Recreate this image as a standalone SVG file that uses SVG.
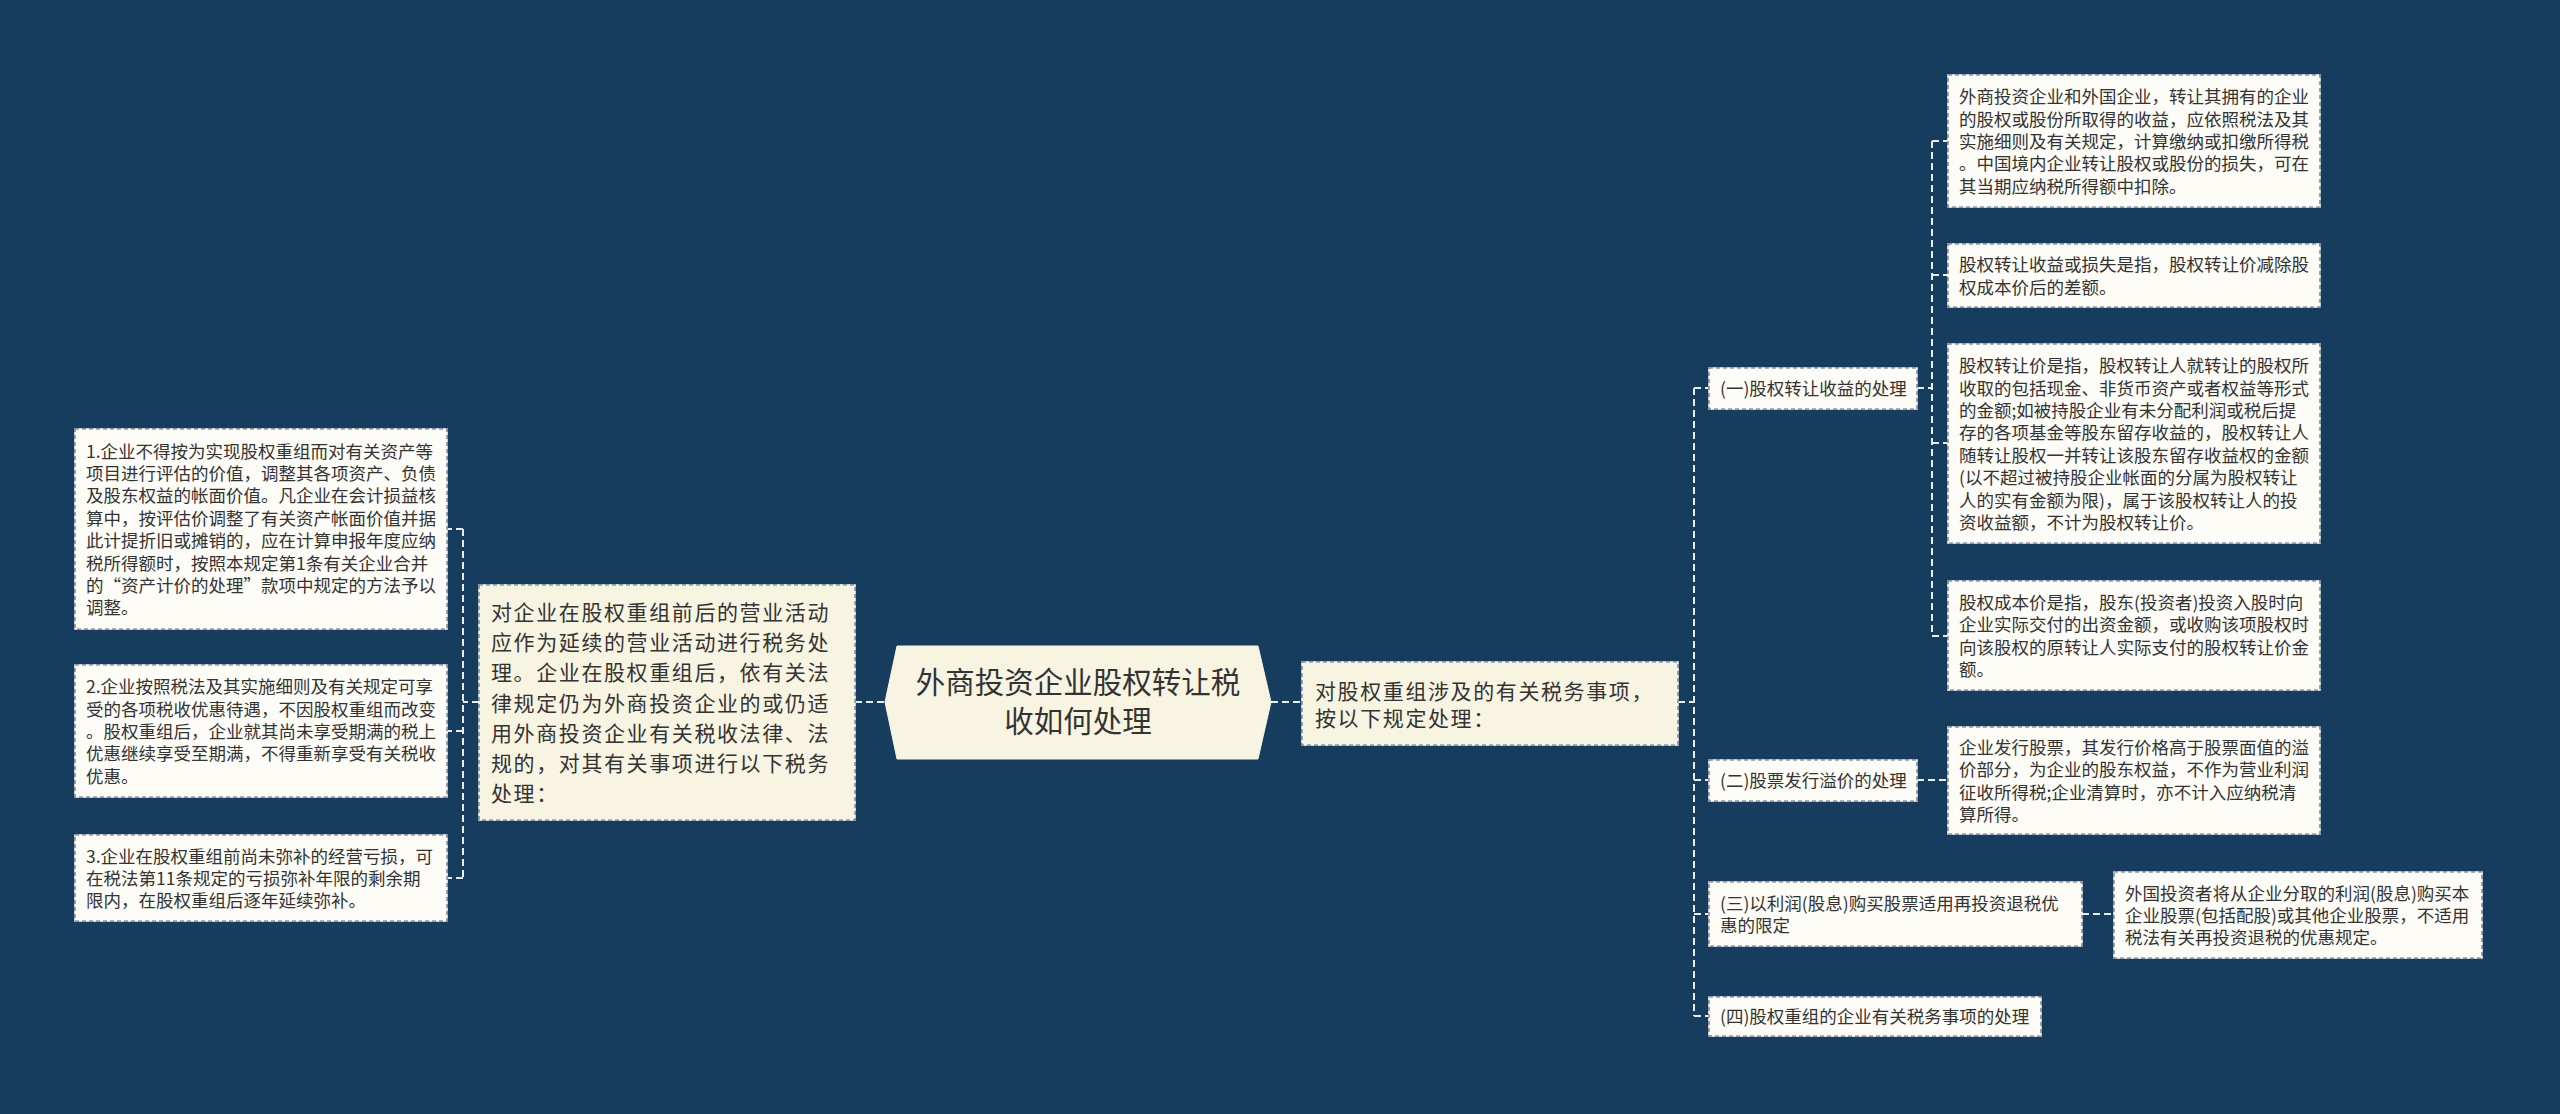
<svg xmlns="http://www.w3.org/2000/svg" width="2560" height="1114" viewBox="0 0 2560 1114">
<style>
.bg{fill:#173d5e}
.bx{fill:#fdfcf6;stroke:#ffffff;stroke-width:1.5}
.bm{fill:#f8f4e2;stroke:#ffffff;stroke-width:1.5}
.bd{fill:none;stroke:#5c6670;stroke-width:1.2;stroke-dasharray:4 3}
.hx{fill:#f8f4e2;stroke:#f8f4e2;stroke-width:1}
.t{font-family:"Noto Sans CJK SC","Noto Sans",sans-serif;fill:#333333}
.s{font-size:17.5px}
.m{font-size:21px;letter-spacing:1.6px}
.c{font-size:29.5px;text-anchor:middle}
.ln{fill:none;stroke:#e9edf0;stroke-width:2;stroke-dasharray:7 4}
</style>
<rect class="bg" x="0" y="0" width="2560" height="1114"/>

<g id="connectors">
<path class="ln" d="M855,702H885"/>
<path class="ln" d="M1271,702H1302"/>
<path class="ln" d="M479,702H463M463,529V878M463,529H447M463,731H447M463,878H447"/>
<path class="ln" d="M1678,702H1694M1694,388V1016M1694,388H1709M1694,780H1709M1694,914H1709M1694,1016H1709"/>
<path class="ln" d="M1917,388H1932M1932,141V636M1932,141H1948M1932,275H1948M1932,443H1948M1932,636H1948"/>
<path class="ln" d="M1917,780H1948"/>
<path class="ln" d="M2082,914H2114"/>
</g>

<g id="center">
<polygon class="hx" points="885,702 897,646 1258,646 1271,702 1258,759 897,759"/>
<text class="t c"><tspan x="1078" y="693">外商投资企业股权转让税</tspan><tspan x="1078" y="732">收如何处理</tspan></text>
</g>

<g id="L0">
<rect class="bm" x="479" y="585" width="376" height="235"/>
<rect class="bd" x="479" y="585" width="376" height="235"/>
<text class="t m"><tspan x="491" y="620">对企业在股权重组前后的营业活动</tspan><tspan x="491" y="650.2">应作为延续的营业活动进行税务处</tspan><tspan x="491" y="680.4">理。企业在股权重组后，依有关法</tspan><tspan x="491" y="710.6">律规定仍为外商投资企业的或仍适</tspan><tspan x="491" y="740.8">用外商投资企业有关税收法律、法</tspan><tspan x="491" y="771">规的，对其有关事项进行以下税务</tspan><tspan x="491" y="801.2">处理：</tspan></text>
</g>

<g id="L1">
<rect class="bx" x="75" y="429" width="372" height="200"/>
<rect class="bd" x="75" y="429" width="372" height="200"/>
<text class="t s"><tspan x="86" y="457.6">1.企业不得按为实现股权重组而对有关资产等</tspan><tspan x="86" y="480">项目进行评估的价值，调整其各项资产、负债</tspan><tspan x="86" y="502.4">及股东权益的帐面价值。凡企业在会计损益核</tspan><tspan x="86" y="524.8">算中，按评估价调整了有关资产帐面价值并据</tspan><tspan x="86" y="547.2">此计提折旧或摊销的，应在计算申报年度应纳</tspan><tspan x="86" y="569.6">税所得额时，按照本规定第1条有关企业合并</tspan><tspan x="86" y="592">的“资产计价的处理”款项中规定的方法予以</tspan><tspan x="86" y="614.4">调整。</tspan></text>
</g>

<g id="L2">
<rect class="bx" x="75" y="665" width="372" height="132"/>
<rect class="bd" x="75" y="665" width="372" height="132"/>
<text class="t s"><tspan x="86" y="693.2">2.企业按照税法及其实施细则及有关规定可享</tspan><tspan x="86" y="715.6">受的各项税收优惠待遇，不因股权重组而改变</tspan><tspan x="86" y="738">。股权重组后，企业就其尚未享受期满的税上</tspan><tspan x="86" y="760.4">优惠继续享受至期满，不得重新享受有关税收</tspan><tspan x="86" y="782.8">优惠。</tspan></text>
</g>

<g id="L3">
<rect class="bx" x="75" y="835" width="372" height="86"/>
<rect class="bd" x="75" y="835" width="372" height="86"/>
<text class="t s"><tspan x="86" y="862.6">3.企业在股权重组前尚未弥补的经营亏损，可</tspan><tspan x="86" y="885">在税法第11条规定的亏损弥补年限的剩余期</tspan><tspan x="86" y="907.4">限内，在股权重组后逐年延续弥补。</tspan></text>
</g>

<g id="R0">
<rect class="bm" x="1302" y="662" width="376" height="83"/>
<rect class="bd" x="1302" y="662" width="376" height="83"/>
<text class="t m"><tspan x="1315" y="698.5">对股权重组涉及的有关税务事项，</tspan><tspan x="1315" y="725.8">按以下规定处理：</tspan></text>
</g>

<g id="C1">
<rect class="bx" x="1709" y="368" width="208" height="41"/>
<rect class="bd" x="1709" y="368" width="208" height="41"/>
<text class="t s"><tspan x="1720" y="395">(一)股权转让收益的处理</tspan></text>
</g>

<g id="D1">
<rect class="bx" x="1948" y="75" width="372" height="132"/>
<rect class="bd" x="1948" y="75" width="372" height="132"/>
<text class="t s"><tspan x="1959" y="103.2">外商投资企业和外国企业，转让其拥有的企业</tspan><tspan x="1959" y="125.6">的股权或股份所取得的收益，应依照税法及其</tspan><tspan x="1959" y="148">实施细则及有关规定，计算缴纳或扣缴所得税</tspan><tspan x="1959" y="170.4">。中国境内企业转让股权或股份的损失，可在</tspan><tspan x="1959" y="192.8">其当期应纳税所得额中扣除。</tspan></text>
</g>

<g id="D2">
<rect class="bx" x="1948" y="244" width="372" height="63"/>
<rect class="bd" x="1948" y="244" width="372" height="63"/>
<text class="t s"><tspan x="1959" y="271.3">股权转让收益或损失是指，股权转让价减除股</tspan><tspan x="1959" y="293.7">权成本价后的差额。</tspan></text>
</g>

<g id="D3">
<rect class="bx" x="1948" y="344" width="372" height="199"/>
<rect class="bd" x="1948" y="344" width="372" height="199"/>
<text class="t s"><tspan x="1959" y="372.1">股权转让价是指，股权转让人就转让的股权所</tspan><tspan x="1959" y="394.5">收取的包括现金、非货币资产或者权益等形式</tspan><tspan x="1959" y="416.9">的金额;如被持股企业有未分配利润或税后提</tspan><tspan x="1959" y="439.3">存的各项基金等股东留存收益的，股权转让人</tspan><tspan x="1959" y="461.7">随转让股权一并转让该股东留存收益权的金额</tspan><tspan x="1959" y="484.1">(以不超过被持股企业帐面的分属为股权转让</tspan><tspan x="1959" y="506.5">人的实有金额为限)，属于该股权转让人的投</tspan><tspan x="1959" y="528.9">资收益额，不计为股权转让价。</tspan></text>
</g>

<g id="D4">
<rect class="bx" x="1948" y="581" width="372" height="109"/>
<rect class="bd" x="1948" y="581" width="372" height="109"/>
<text class="t s"><tspan x="1959" y="608.9">股权成本价是指，股东(投资者)投资入股时向</tspan><tspan x="1959" y="631.3">企业实际交付的出资金额，或收购该项股权时</tspan><tspan x="1959" y="653.7">向该股权的原转让人实际支付的股权转让价金</tspan><tspan x="1959" y="676.1">额。</tspan></text>
</g>

<g id="C2">
<rect class="bx" x="1709" y="760" width="208" height="41"/>
<rect class="bd" x="1709" y="760" width="208" height="41"/>
<text class="t s"><tspan x="1720" y="787">(二)股票发行溢价的处理</tspan></text>
</g>

<g id="E1">
<rect class="bx" x="1948" y="727" width="372" height="107"/>
<rect class="bd" x="1948" y="727" width="372" height="107"/>
<text class="t s"><tspan x="1959" y="753.9">企业发行股票，其发行价格高于股票面值的溢</tspan><tspan x="1959" y="776.3">价部分，为企业的股东权益，不作为营业利润</tspan><tspan x="1959" y="798.7">征收所得税;企业清算时，亦不计入应纳税清</tspan><tspan x="1959" y="821.1">算所得。</tspan></text>
</g>

<g id="C3">
<rect class="bx" x="1709" y="882" width="373" height="64"/>
<rect class="bd" x="1709" y="882" width="373" height="64"/>
<text class="t s"><tspan x="1720" y="909.8">(三)以利润(股息)购买股票适用再投资退税优</tspan><tspan x="1720" y="932.2">惠的限定</tspan></text>
</g>

<g id="E2">
<rect class="bx" x="2114" y="872" width="368" height="86"/>
<rect class="bd" x="2114" y="872" width="368" height="86"/>
<text class="t s"><tspan x="2125" y="899.6">外国投资者将从企业分取的利润(股息)购买本</tspan><tspan x="2125" y="922">企业股票(包括配股)或其他企业股票，不适用</tspan><tspan x="2125" y="944.4">税法有关再投资退税的优惠规定。</tspan></text>
</g>

<g id="C4">
<rect class="bx" x="1709" y="997" width="332" height="39"/>
<rect class="bd" x="1709" y="997" width="332" height="39"/>
<text class="t s"><tspan x="1720" y="1023">(四)股权重组的企业有关税务事项的处理</tspan></text>
</g>
</svg>
